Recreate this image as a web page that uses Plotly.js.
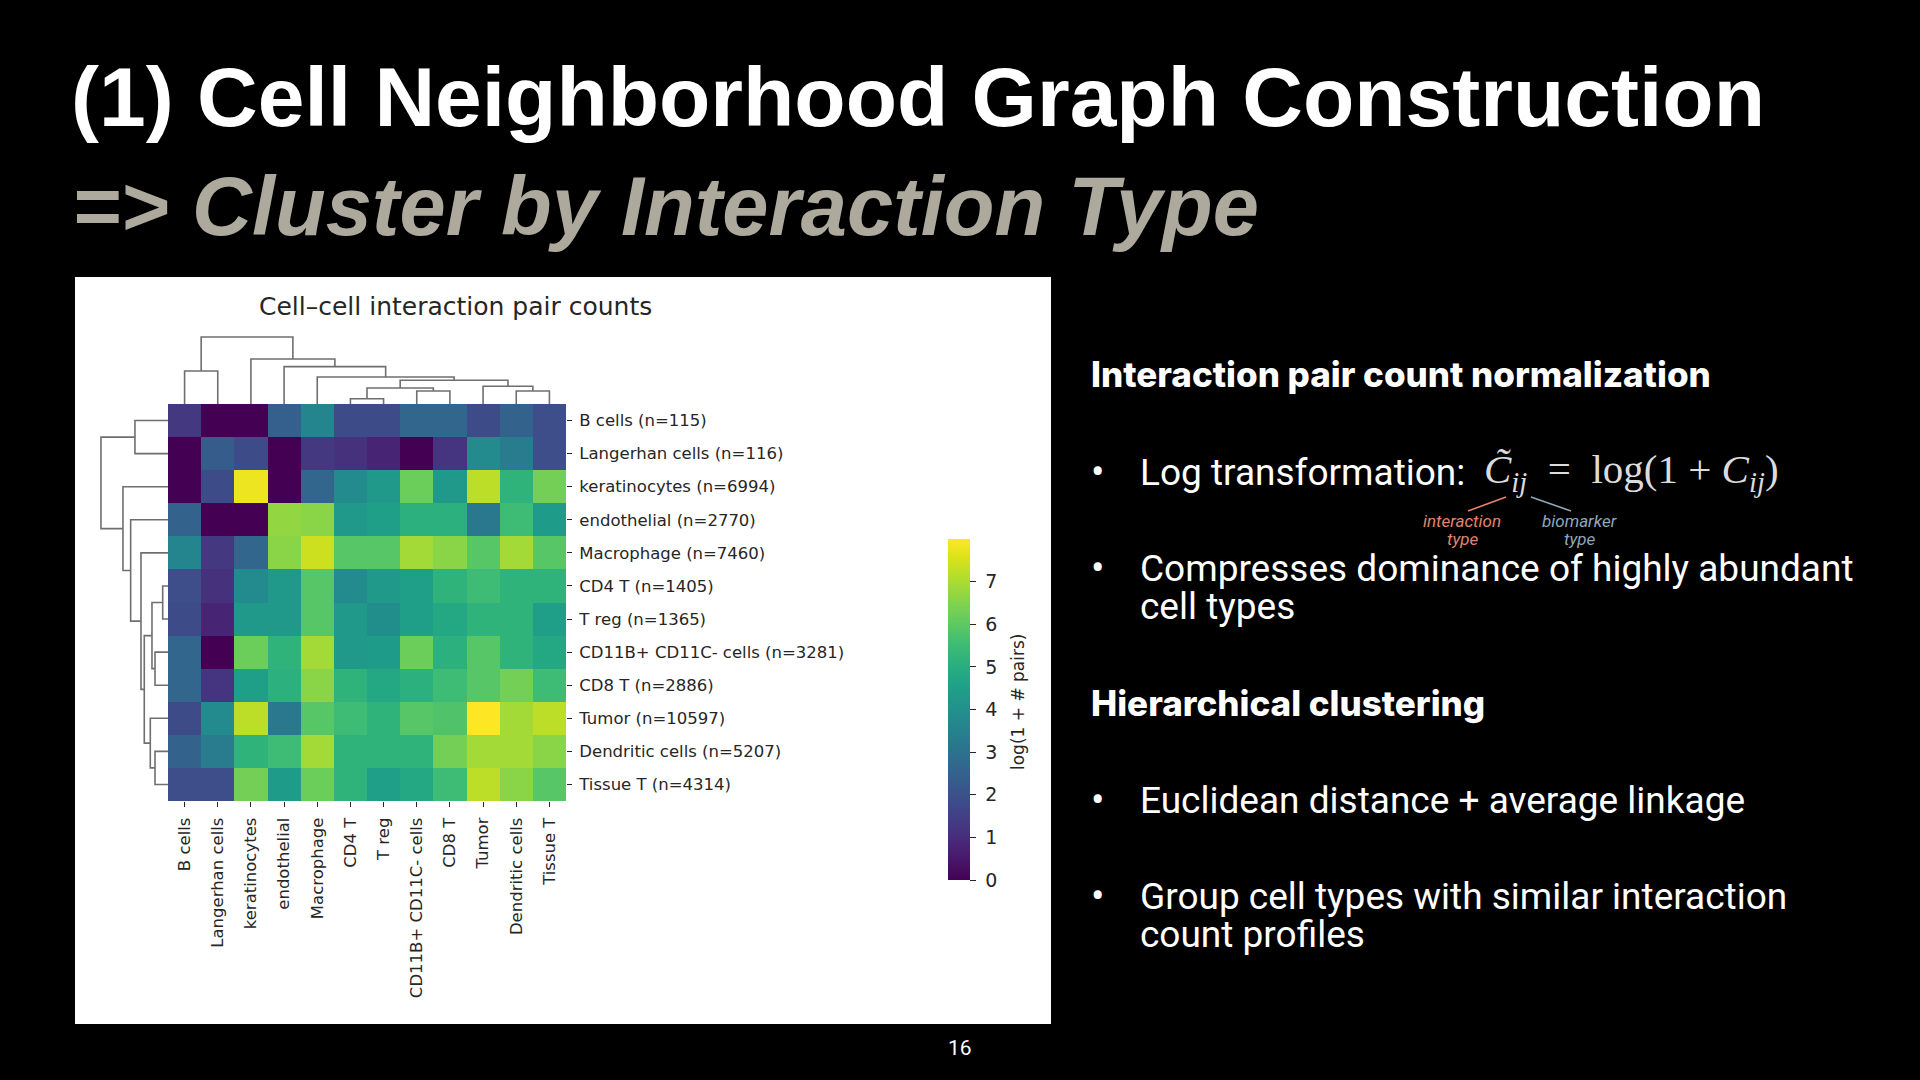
<!DOCTYPE html>
<html>
<head>
<meta charset="utf-8">
<script src="https://cdn.plot.ly/plotly-3.0.1.min.js"></script>
<style>html,body{margin:0;padding:0;background:#000;}#chart{width:1920px;height:1080px;}</style>
</head>
<body>
<div id="chart"></div>
<script>
// ---- data ----
const colLabels = ['B cells','Langerhan cells','keratinocytes','endothelial','Macrophage','CD4 T','T reg','CD11B+ CD11C- cells','CD8 T','Tumor','Dendritic cells','Tissue T'];
const rowLabels = ['B cells (n=115)','Langerhan cells (n=116)','keratinocytes (n=6994)','endothelial (n=2770)','Macrophage (n=7460)','CD4 T (n=1405)','T reg (n=1365)','CD11B+ CD11C- cells (n=3281)','CD8 T (n=2886)','Tumor (n=10597)','Dendritic cells (n=5207)','Tissue T (n=4314)'];
const logCounts = [
  [1.3, 0.0, 0.0, 2.4, 3.6, 1.8, 1.8, 2.6, 2.6, 1.8, 2.5, 1.9],
  [0.0, 2.3, 1.8, 0.0, 1.3, 1.1, 0.8, 0.0, 1.2, 3.8, 3.3, 1.9],
  [0.0, 1.8, 7.8, 0.0, 2.6, 3.8, 4.3, 6.2, 4.3, 7.2, 5.2, 6.3],
  [2.5, 0.0, 0.0, 6.7, 6.6, 4.3, 4.5, 5.1, 5.1, 3.2, 5.5, 4.4],
  [3.6, 1.3, 2.6, 6.6, 7.4, 5.9, 5.9, 6.9, 6.6, 5.9, 6.9, 5.9],
  [1.9, 1.1, 3.8, 4.3, 5.9, 3.8, 4.3, 4.5, 5.2, 5.5, 5.2, 5.2],
  [1.8, 0.8, 4.3, 4.3, 5.9, 4.3, 3.9, 4.5, 4.8, 5.2, 5.2, 4.5],
  [2.6, 0.0, 6.2, 5.2, 6.9, 4.3, 4.4, 6.2, 5.1, 5.9, 5.2, 4.8],
  [2.6, 1.2, 4.5, 5.1, 6.6, 5.2, 4.8, 5.1, 5.5, 5.9, 6.3, 5.5],
  [1.8, 3.8, 7.2, 3.2, 5.9, 5.5, 5.2, 5.9, 5.8, 8.0, 6.9, 7.2],
  [2.5, 3.3, 5.2, 5.5, 6.9, 5.2, 5.2, 5.2, 6.3, 6.9, 6.9, 6.6],
  [1.9, 1.9, 6.3, 4.4, 6.2, 5.2, 4.5, 4.8, 5.5, 7.2, 6.6, 5.9]
];
// linkage (scipy style): leaves 0..11 in display order, new clusters 12..22
const linkLeft   = [0, 5, 7, 10, 13,  9, 16, 4, 3,  2, 12];
const linkRight  = [1, 6, 8, 11, 14, 15, 17, 18, 19, 20, 21];
const linkHeight = [4.93, 0.79, 1.94, 1.94, 2.39, 2.64, 3.54, 4.03, 5.57, 6.72, 10.0];
const cbTicks = [0,1,2,3,4,5,6,7];

// ---- helpers ----
const W = 1920, H = 1080;
const px = v => v / W;
const py = v => 1 - v / H;

function dendroSegments() {
  const pos = [], hgt = [];
  for (let i = 0; i < 12; i++) { pos.push(i); hgt.push(0); }
  const a = [], b = [];
  for (let k = 0; k < linkLeft.length; k++) {
    const l = linkLeft[k], r = linkRight[k], h = linkHeight[k];
    a.push(pos[l], pos[l], pos[r], pos[r], null);
    b.push(hgt[l], h, h, hgt[r], null);
    pos.push((pos[l] + pos[r]) / 2); hgt.push(h);
  }
  return {pos: a, h: b};
}
const seg = dendroSegments();

const hmX0 = 168, hmX1 = 566, hmY0 = 404, hmY1 = 801;
const dendMax = 11.04;
const tickFont = {family: 'DejaVu Sans', size: 16.5, color: '#262626'};

const traces = [
  {
    type: 'heatmap', z: logCounts, x: colLabels, y: rowLabels,
    colorscale: 'Viridis', zmin: 0, zmax: 8, xaxis: 'x', yaxis: 'y',
    hoverinfo: 'skip', xgap: 0, ygap: 0,
    colorbar: {
      x: px(948), xanchor: 'left', xref: 'paper', xpad: 0,
      y: py(880), yanchor: 'bottom', yref: 'paper', ypad: 0,
      len: 341, lenmode: 'pixels', thickness: 22, thicknessmode: 'pixels',
      outlinewidth: 0, ticks: 'outside', ticklen: 6, tickwidth: 1, tickcolor: '#262626',
      tickvals: cbTicks, ticktext: cbTicks.map(v => '\u00a0' + v),
      tickfont: {family: 'DejaVu Sans', size: 19, color: '#262626'}
    }
  },
  {
    type: 'scatter', mode: 'lines', x: seg.pos, y: seg.h, xaxis: 'x2', yaxis: 'y2',
    line: {color: '#6f6f6f', width: 1.6}, hoverinfo: 'skip', showlegend: false, connectgaps: false
  },
  {
    type: 'scatter', mode: 'lines', x: seg.h, y: seg.pos, xaxis: 'x3', yaxis: 'y3',
    line: {color: '#6f6f6f', width: 1.6}, hoverinfo: 'skip', showlegend: false, connectgaps: false
  }
];

const hidden = {showgrid: false, zeroline: false, showline: false, showticklabels: false, ticks: ''};

function ann(text, x, y, font, extra) {
  return Object.assign({text: text, x: px(x), y: py(y), xref: 'paper', yref: 'paper',
    xanchor: 'left', yanchor: 'middle', showarrow: false, font: font}, extra || {});
}
const titleFont = {family: 'Liberation Sans', size: 84, color: '#ffffff', weight: 700};
const subFont = {family: 'Liberation Sans', size: 83, color: '#ada99d', weight: 700, style: 'italic'};
const headFont = {family: 'Inter', size: 35, color: '#ffffff', weight: 800};
const bodyFont = {family: 'Roboto', size: 37, color: '#ffffff'};
const bulletFont = {family: 'Roboto', size: 40, color: '#ffffff'};
const intFont = {family: 'Roboto', size: 17, color: '#e3846c', style: 'italic'};
const bioFont = {family: 'Roboto', size: 17, color: '#8ea8b8', style: 'italic'};

const annotations = [
  ann('(1) Cell Neighborhood Graph Construction', 69, 97, titleFont),
  ann('=> Cluster by Interaction Type', 70, 206, subFont),
  ann('Cell–cell interaction pair counts', 455, 307, {family: 'DejaVu Sans', size: 25, color: '#262626'}, {xanchor: 'center'}),
  ann('log(1 + # pairs)', 1018, 702, {family: 'DejaVu Sans', size: 17, color: '#262626'}, {xanchor: 'center', textangle: -90}),
  ann('Interaction pair count normalization', 1089, 374, headFont),
  ann('•', 1089, 472, bulletFont),
  ann('Log transformation:', 1138, 472, bodyFont),
  ann('<i>C̃</i><sub><i>ij</i></sub>  =  log(1 + <i>C</i><sub><i>ij</i></sub>)', 1482, 472, {family: 'Liberation Serif', size: 41, color: '#dcdcdc'}),
  ann('interaction', 1462, 521, intFont, {xanchor: 'center'}),
  ann('type', 1462, 539, intFont, {xanchor: 'center'}),
  ann('biomarker', 1579, 521, bioFont, {xanchor: 'center'}),
  ann('type', 1579, 539, bioFont, {xanchor: 'center'}),
  ann('•', 1089, 568, bulletFont),
  ann('Compresses dominance of highly abundant', 1138, 568, bodyFont),
  ann('cell types', 1138, 606, bodyFont),
  ann('Hierarchical clustering', 1089, 703, headFont),
  ann('•', 1089, 800, bulletFont),
  ann('Euclidean distance + average linkage', 1138, 800, bodyFont),
  ann('•', 1089, 896, bulletFont),
  ann('Group cell types with similar interaction', 1138, 896, bodyFont),
  ann('count profiles', 1138, 934, bodyFont),
  ann('16', 960, 1048, {family: 'Roboto', size: 21, color: '#ffffff'}, {xanchor: 'center'})
];

const shapes = [
  {type: 'rect', xref: 'paper', yref: 'paper', x0: px(75), x1: px(1051), y0: py(1024), y1: py(277),
   fillcolor: '#ffffff', line: {width: 0}, layer: 'below'},
  {type: 'line', xref: 'paper', yref: 'paper', x0: px(1468), y0: py(511), x1: px(1506), y1: py(497),
   line: {color: '#e3846c', width: 1.6}},
  {type: 'line', xref: 'paper', yref: 'paper', x0: px(1531), y0: py(497), x1: px(1571), y1: py(511),
   line: {color: '#8ea8b8', width: 1.6}}
];

const layout = {
  width: W, height: H, margin: {l: 0, r: 0, t: 0, b: 0, pad: 0},
  paper_bgcolor: '#000000', plot_bgcolor: 'rgba(0,0,0,0)', showlegend: false,
  xaxis: {domain: [px(hmX0), px(hmX1)], anchor: 'y', type: 'category', showgrid: false, zeroline: false,
          ticks: 'outside', ticklen: 5, tickwidth: 1, tickcolor: '#262626', tickangle: -90,
          tickfont: tickFont, ticklabelstandoff: 4, fixedrange: true},
  yaxis: {domain: [py(hmY1), py(hmY0)], anchor: 'x', type: 'category', side: 'right', autorange: 'reversed',
          showgrid: false, zeroline: false, ticks: 'outside', ticklen: 5, tickwidth: 1, tickcolor: '#262626',
          tickfont: tickFont, ticklabelstandoff: 4, fixedrange: true},
  xaxis2: Object.assign({domain: [px(hmX0), px(hmX1)], anchor: 'y2', range: [-0.5, 11.5]}, hidden),
  yaxis2: Object.assign({domain: [py(hmY0), py(hmY0 - 74)], anchor: 'x2', range: [0, dendMax]}, hidden),
  xaxis3: Object.assign({domain: [px(hmX0 - 74), px(hmX0)], anchor: 'y3', range: [dendMax, 0]}, hidden),
  yaxis3: Object.assign({domain: [py(hmY1), py(hmY0)], anchor: 'x3', range: [11.5, -0.5]}, hidden),
  annotations: annotations,
  shapes: shapes
};

Plotly.newPlot('chart', traces, layout, {displayModeBar: false, staticPlot: true});
</script>
</body>
</html>
